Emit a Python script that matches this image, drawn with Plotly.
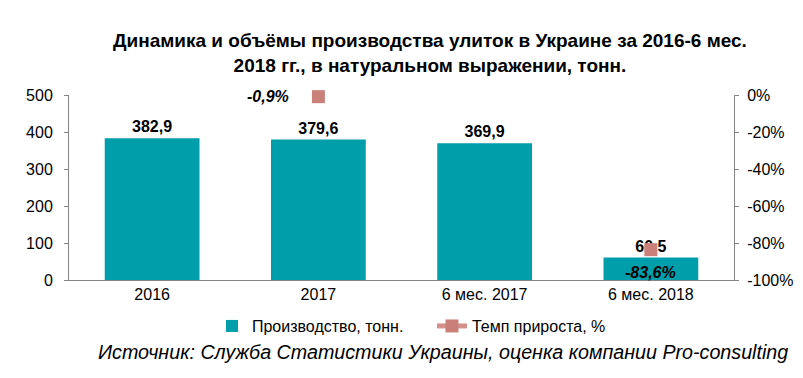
import plotly.graph_objects as go

categories = ["2016", "2017", "6 мес. 2017", "6 мес. 2018"]
production = [382.9, 379.6, 369.9, 60.5]
production_labels = ["382,9", "379,6", "369,9", "60,5"]
growth = [None, -0.9, None, -83.6]
growth_labels = ["", "-0,9%", "", "-83,6%"]
left_ticks = [0, 100, 200, 300, 400, 500]
right_ticks = [-100, -80, -60, -40, -20, 0]
right_ticktext = ["-100%", "-80%", "-60%", "-40%", "-20%", "0%"]

FONT = "Liberation Sans, Arial, sans-serif"

fig = go.Figure()
fig.add_trace(go.Bar(
    x=categories, y=production, name="Производство, тонн.",
    marker=dict(color="#009dab", line=dict(width=0)),
    width=0.57,
    text=production_labels, textposition="outside",
    textfont=dict(family=FONT, size=16, color="black", weight="bold"),
    cliponaxis=False,
))
fig.add_trace(go.Scatter(
    x=categories, y=growth, name="Темп прироста, %", yaxis="y2",
    mode="lines+markers",
    line=dict(color="#d4908b", width=5),
    marker=dict(symbol="square", size=13, color="#c9807a"),
    connectgaps=False, cliponaxis=False,
))

# growth labels as annotations anchored to the data points
label_style = [dict(xanchor="right", yanchor="middle", xshift=-27, yshift=0),
               dict(xanchor="center", yanchor="middle", xshift=0, yshift=-23)]
annots = []
k = 0
for i, (val, lab) in enumerate(zip(growth, growth_labels)):
    if val is None:
        continue
    st = label_style[k]
    k += 1
    annots.append(dict(x=i, y=val, xref="x", yref="y2", text="<b><i>" + lab + "</i></b>",
                       showarrow=False, font=dict(family=FONT, size=16, color="black"), **st))

annots += [
    dict(text="<b>Динамика и объёмы производства улиток в Украине за 2016-6 мес.<br>2018 гг., в натуральном выражении, тонн.</b>",
         xref="paper", yref="paper", x=0.543, y=1.227, xanchor="center", yanchor="middle",
         showarrow=False, font=dict(family=FONT, size=19, color="black")),
    dict(text="<i>Источник: Служба Статистики Украины, оценка компании Pro-consulting</i>",
         xref="paper", yref="paper", x=1.084, y=-0.389, xanchor="right", yanchor="middle",
         showarrow=False, font=dict(family=FONT, size=19.7, color="black")),
]

fig.update_layout(
    width=795, height=370,
    margin=dict(l=61, r=69, t=87, b=98, autoexpand=False),
    plot_bgcolor="white", paper_bgcolor="white",
    font=dict(family=FONT, size=16, color="black"),
    showlegend=True,
    legend=dict(orientation="h", x=0.215, xanchor="left", y=-0.157, yanchor="top",
                font=dict(size=16), tracegroupgap=0,
                entrywidth=175, entrywidthmode="pixels"),
    xaxis=dict(type="category", showline=True, linecolor="#868686", linewidth=1, ticks="",
               tickfont=dict(size=16), showgrid=False),
    yaxis=dict(range=[0, 500], tickvals=left_ticks, showline=True, linecolor="#868686",
               ticks="outside", ticklen=4, tickcolor="#868686", showgrid=False,
               tickfont=dict(size=16), zeroline=False, ticklabelstandoff=8),
    yaxis2=dict(range=[-100, 0], tickvals=right_ticks, ticktext=right_ticktext,
                overlaying="y", side="right", showline=True, linecolor="#868686",
                ticks="outside", ticklen=4, tickcolor="#868686", showgrid=False,
                tickfont=dict(size=16), zeroline=False, ticklabelstandoff=5),
    annotations=annots,
)

fig.write_html("out.html")
